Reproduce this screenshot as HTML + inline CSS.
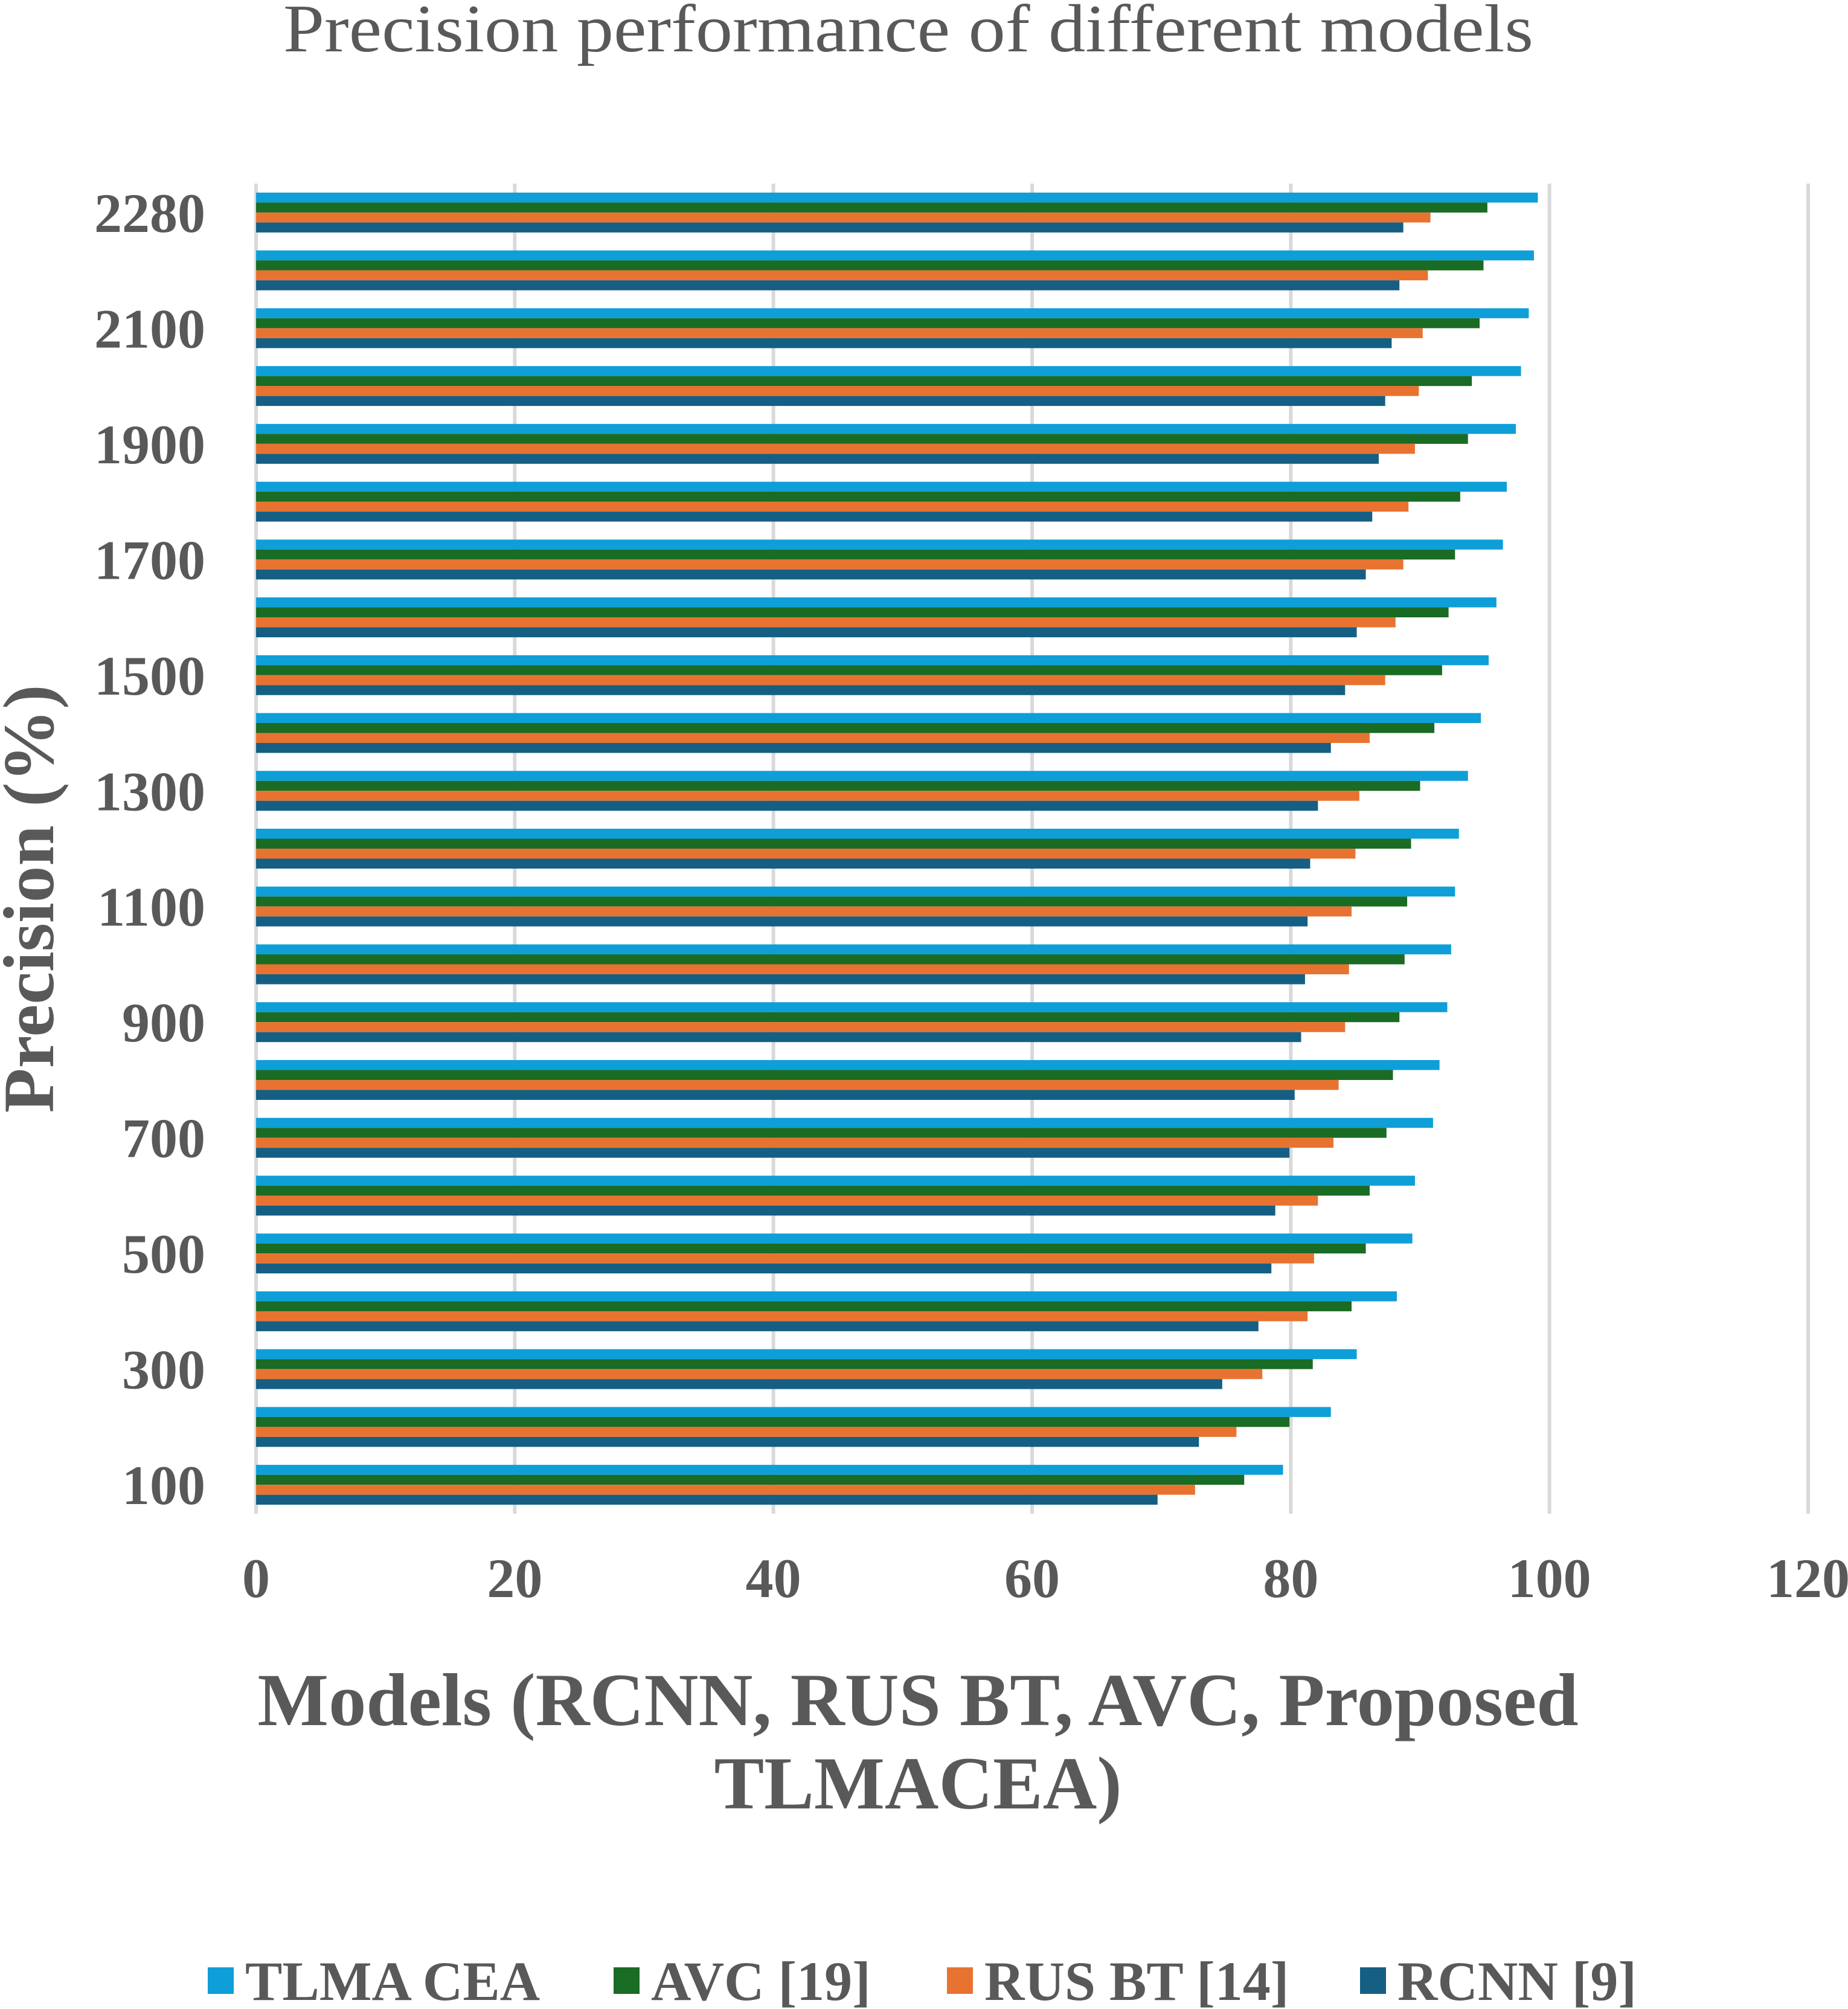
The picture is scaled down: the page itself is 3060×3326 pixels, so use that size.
<!DOCTYPE html>
<html><head><meta charset="utf-8"><style>
html,body{margin:0;padding:0;background:#fff;}
svg{display:block;}
</style></head><body>
<svg id="chart" width="3060" height="3326" viewBox="0 0 3060 3326" xmlns="http://www.w3.org/2000/svg">
<rect width="3060" height="3326" fill="#ffffff"/>
<text x="1504" y="85" text-anchor="middle" font-family="Liberation Serif, serif" font-size="112" fill="#595959" textLength="2070" lengthAdjust="spacingAndGlyphs">Precision performance of different models</text>
<g id="grid"></g>
<g id="bars"></g>
<g id="ylabels"></g>
<g id="xlabels"></g>
<text transform="translate(88,1488) rotate(-90)" text-anchor="middle" font-family="Liberation Serif, serif" font-weight="bold" font-size="120" fill="#595959" textLength="709" lengthAdjust="spacingAndGlyphs">Precision (%)</text>
<text x="1520" y="2856" text-anchor="middle" font-family="Liberation Serif, serif" font-weight="bold" font-size="124" fill="#595959" textLength="2187" lengthAdjust="spacingAndGlyphs">Models (RCNN, RUS BT, AVC, Proposed</text>
<text x="1520" y="2994" text-anchor="middle" font-family="Liberation Serif, serif" font-weight="bold" font-size="124" fill="#595959">TLMACEA)</text>
<g id="legend"></g>
</svg>
<script>
const categories = [2280,2200,2100,2000,1900,1800,1700,1600,1500,1400,1300,1200,1100,1000,900,800,700,600,500,400,300,200,100];
const tlmaCea = [99.1,98.8,98.4,97.8,97.4,96.7,96.4,95.9,95.3,94.7,93.7,93.0,92.7,92.4,92.1,91.5,91.0,89.6,89.4,88.2,85.1,83.1,79.4];
const avc19 = [95.2,94.9,94.6,94.0,93.7,93.1,92.7,92.2,91.7,91.1,90.0,89.3,89.0,88.8,88.4,87.9,87.4,86.1,85.8,84.7,81.7,79.9,76.4];
const rusBt14 = [90.8,90.6,90.2,89.9,89.6,89.1,88.7,88.1,87.3,86.1,85.3,85.0,84.7,84.5,84.2,83.7,83.3,82.1,81.8,81.3,77.8,75.8,72.6];
const rcnn9 = [88.7,88.4,87.8,87.3,86.8,86.3,85.8,85.1,84.2,83.1,82.1,81.5,81.3,81.1,80.8,80.3,79.9,78.8,78.5,77.5,74.7,72.9,69.7];
const xTicks = [0,20,40,60,80,100,120];
const seriesNames = ["TLMA CEA","AVC [19]","RUS BT [14]","RCNN [9]"];

const NS = "http://www.w3.org/2000/svg";
const series = [tlmaCea, avc19, rusBt14, rcnn9];
const colors = ["#0e9fd8","#1a6b24","#e87331","#155f84"];
const plotL = 424, plotR = 2994, plotT = 304, plotB = 2506, xMax = 120;
const xScale = v => plotL + v * (plotR - plotL) / xMax;
const band = (plotB - plotT) / categories.length;
const barH = 16.5;
const groupOff = (band - barH * series.length) / 2;

function mk(tag, attrs, parent){ const e=document.createElementNS(NS,tag); for(const k in attrs) e.setAttribute(k,attrs[k]); parent.appendChild(e); return e; }

const grid = document.getElementById('grid');
const xl = document.getElementById('xlabels');
xTicks.forEach(t=>{
  const l = mk('line',{x1:xScale(t),x2:xScale(t),y1:plotT,y2:plotB,stroke:'#d9d9d9','stroke-width':6},grid);
  
  
  const tx = mk('text',{x:xScale(t),y:2644,'text-anchor':'middle','font-family':'Liberation Serif, serif','font-weight':'bold','font-size':92,fill:'#595959'},xl);
  tx.textContent = t;
  
  
});

const bars = document.getElementById('bars');
const yl = document.getElementById('ylabels');
categories.forEach((c,i)=>{
  const top = plotT + i*band + groupOff;
  series.forEach((s,j)=>{
    const r = mk('rect',{x:xScale(0),y:top+j*barH,width:xScale(s[i])-xScale(0),height:barH,fill:colors[j]},bars);
    
    
  });
  if(i%2===0){
    const tx = mk('text',{x:340,y:plotT+i*band+band/2+32,'text-anchor':'end','font-family':'Liberation Serif, serif','font-weight':'bold','font-size':92,fill:'#595959'},yl);
    tx.textContent = c;
    
    
  }
});

const lg = document.getElementById('legend');
const lgSq = [344,1016,1568,2252];
seriesNames.forEach((n,j)=>{
  const r = mk('rect',{x:lgSq[j],y:3257,width:43,height:44,fill:colors[j]},lg);
  
  
  const tx = mk('text',{x:lgSq[j]+62,y:3311,'font-family':'Liberation Serif, serif','font-weight':'bold','font-size':92,fill:'#595959'},lg);
  tx.textContent = n;
  
  
});
</script>
</body></html>
